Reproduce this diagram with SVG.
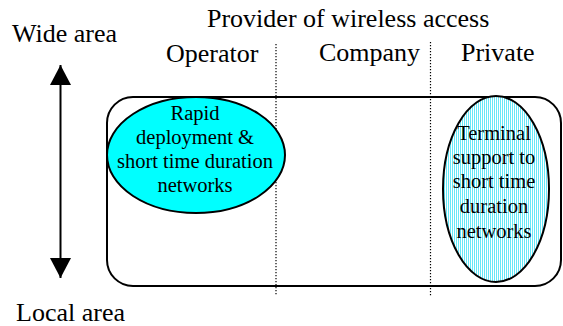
<svg xmlns="http://www.w3.org/2000/svg" width="563" height="326" viewBox="0 0 563 326" font-family="'Liberation Serif', Tinos, 'Times New Roman', 'DejaVu Serif', serif">
  <defs>
    <style>
      text { font-family: 'Liberation Serif', Tinos, 'Times New Roman', 'DejaVu Serif', serif; fill: #000; }
      .head { font-size: 26px; }
      .inner { font-size: 20.5px; text-anchor: middle; }
      .sep { stroke: #000; stroke-width: 1.2; stroke-dasharray: 1.2 1.8; fill: none; }
      .frame { fill: #fff; stroke: #000; stroke-width: 2; }
      .bubble { stroke: #000; stroke-width: 2; }
      .axis { stroke: #000; stroke-width: 2; fill: none; }
    </style>
    <!-- thin vertical stripes used for the private terminal bubble -->
    <pattern id="stripes" patternUnits="userSpaceOnUse" width="2" height="4">
      <rect width="2" height="4" fill="#ffffff"/>
      <rect width="1" height="4" fill="#66e8f8"/>
    </pattern>
    <marker id="head" viewBox="0 0 20 21" refX="20" refY="10.5" markerWidth="20" markerHeight="21" markerUnits="userSpaceOnUse" orient="auto">
      <path d="M0,0 L20,10.5 L0,21 Z" fill="#000"/>
    </marker>
  </defs>

  <!-- header labels -->
  <g id="labels">
    <text class="head" x="207" y="27">Provider of wireless access</text>
    <text class="head" x="12" y="42">Wide area</text>
    <text class="head" x="166" y="62">Operator</text>
    <text class="head" x="319" y="61">Company</text>
    <text class="head" x="461" y="61">Private</text>
    <text class="head" x="16" y="321">Local area</text>
  </g>

  <!-- scope frame -->
  <g id="frame">
    <rect class="frame" x="107" y="97" width="454" height="189" rx="26" ry="26"/>
  </g>

  <!-- column separators -->
  <g id="separators">
    <line class="sep" x1="276" y1="44" x2="276" y2="296"/>
    <line class="sep" x1="430.5" y1="42" x2="430.5" y2="296"/>
  </g>

  <g id="operator-node">
    <ellipse class="bubble" cx="196" cy="155" rx="89" ry="58" fill="#00ffff"/>
    <text class="inner" x="195" y="120">Rapid</text>
    <text class="inner" x="195" y="144">deployment &amp;</text>
    <text class="inner" x="195" y="168">short time duration</text>
    <text class="inner" x="195" y="192">networks</text>
  </g>

  <g id="private-node">
    <ellipse class="bubble" cx="496" cy="189" rx="53" ry="93" fill="url(#stripes)"/>
    <text class="inner" x="494" y="140">Terminal</text>
    <text class="inner" x="494" y="164">support to</text>
    <text class="inner" x="494" y="188">short time</text>
    <text class="inner" x="494" y="213">duration</text>
    <text class="inner" x="494" y="238">networks</text>
  </g>

  <!-- wide/local area axis -->
  <g id="connectors">
    <line class="axis" x1="60.5" y1="171" x2="60.5" y2="65" marker-end="url(#head)"/>
    <line class="axis" x1="60.5" y1="171" x2="60.5" y2="278" marker-end="url(#head)"/>
  </g>
</svg>
